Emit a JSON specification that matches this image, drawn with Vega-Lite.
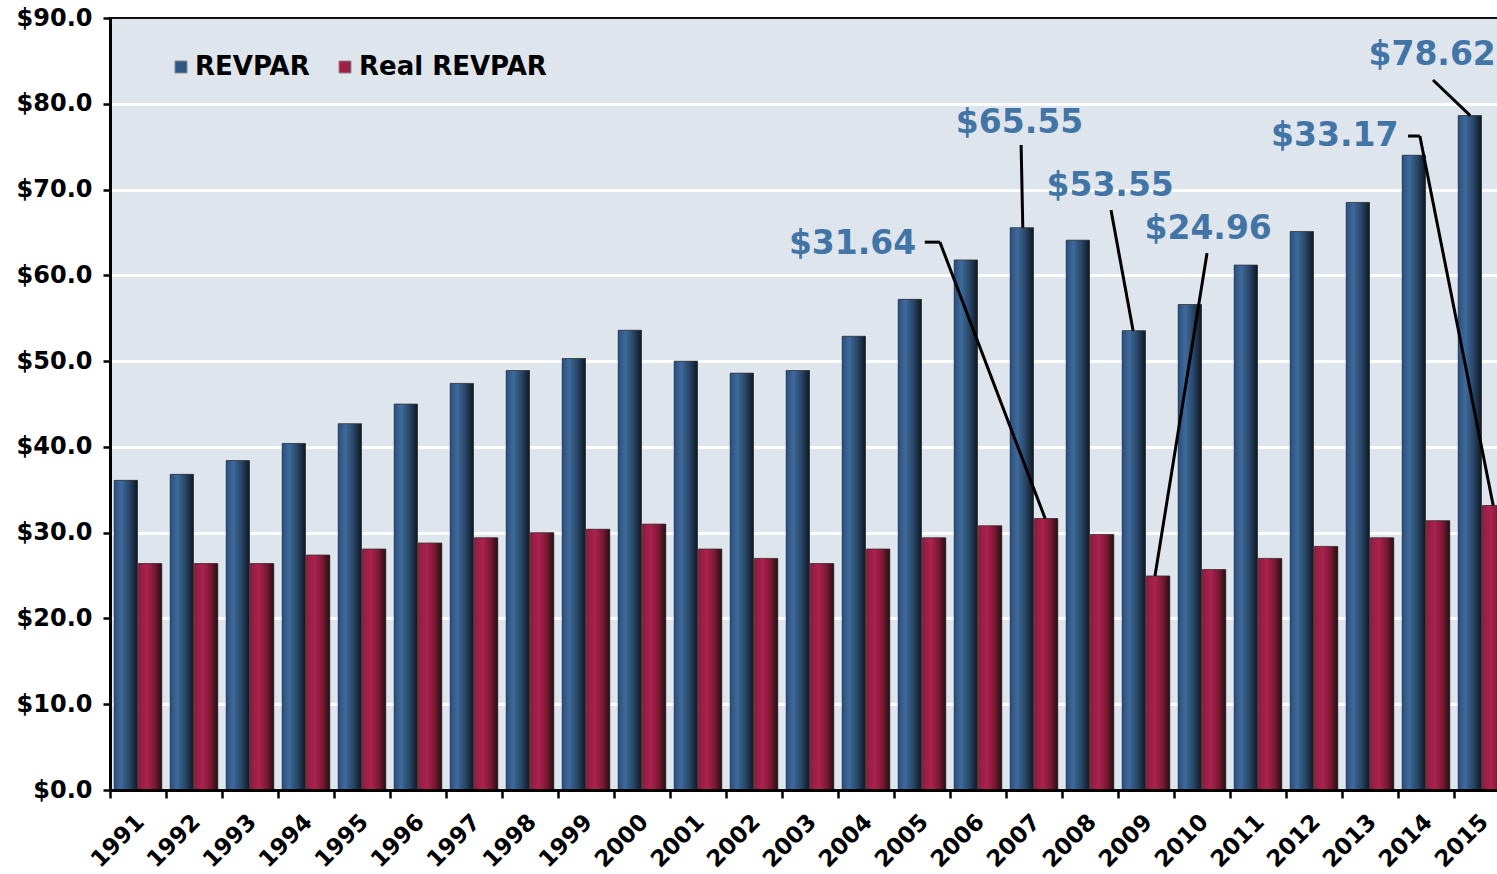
{
  "$schema": "https://vega.github.io/schema/vega-lite/v6.json",
  "width": 1388,
  "height": 772,
  "autosize": {"type": "none"},
  "padding": {"left": 110, "top": 18, "right": 0, "bottom": 84},
  "background": "white",
  "config": {
    "view": {"fill": "#dee5ec", "stroke": "#111111", "strokeWidth": 2},
    "font": "DejaVu Sans"
  },
  "datasets": {
    "bars": [
      {"year": "1991", "series": "REVPAR", "value": 36.1}, {"year": "1991", "series": "Real REVPAR", "value": 26.4},
      {"year": "1992", "series": "REVPAR", "value": 36.8}, {"year": "1992", "series": "Real REVPAR", "value": 26.4},
      {"year": "1993", "series": "REVPAR", "value": 38.4}, {"year": "1993", "series": "Real REVPAR", "value": 26.4},
      {"year": "1994", "series": "REVPAR", "value": 40.4}, {"year": "1994", "series": "Real REVPAR", "value": 27.4},
      {"year": "1995", "series": "REVPAR", "value": 42.7}, {"year": "1995", "series": "Real REVPAR", "value": 28.1},
      {"year": "1996", "series": "REVPAR", "value": 45.0}, {"year": "1996", "series": "Real REVPAR", "value": 28.8},
      {"year": "1997", "series": "REVPAR", "value": 47.4}, {"year": "1997", "series": "Real REVPAR", "value": 29.4},
      {"year": "1998", "series": "REVPAR", "value": 48.9}, {"year": "1998", "series": "Real REVPAR", "value": 30.0},
      {"year": "1999", "series": "REVPAR", "value": 50.3}, {"year": "1999", "series": "Real REVPAR", "value": 30.4},
      {"year": "2000", "series": "REVPAR", "value": 53.6}, {"year": "2000", "series": "Real REVPAR", "value": 31.0},
      {"year": "2001", "series": "REVPAR", "value": 50.0}, {"year": "2001", "series": "Real REVPAR", "value": 28.1},
      {"year": "2002", "series": "REVPAR", "value": 48.6}, {"year": "2002", "series": "Real REVPAR", "value": 27.0},
      {"year": "2003", "series": "REVPAR", "value": 48.9}, {"year": "2003", "series": "Real REVPAR", "value": 26.4},
      {"year": "2004", "series": "REVPAR", "value": 52.9}, {"year": "2004", "series": "Real REVPAR", "value": 28.1},
      {"year": "2005", "series": "REVPAR", "value": 57.2}, {"year": "2005", "series": "Real REVPAR", "value": 29.4},
      {"year": "2006", "series": "REVPAR", "value": 61.8}, {"year": "2006", "series": "Real REVPAR", "value": 30.8},
      {"year": "2007", "series": "REVPAR", "value": 65.55}, {"year": "2007", "series": "Real REVPAR", "value": 31.64},
      {"year": "2008", "series": "REVPAR", "value": 64.1}, {"year": "2008", "series": "Real REVPAR", "value": 29.8},
      {"year": "2009", "series": "REVPAR", "value": 53.55}, {"year": "2009", "series": "Real REVPAR", "value": 24.96},
      {"year": "2010", "series": "REVPAR", "value": 56.6}, {"year": "2010", "series": "Real REVPAR", "value": 25.7},
      {"year": "2011", "series": "REVPAR", "value": 61.2}, {"year": "2011", "series": "Real REVPAR", "value": 27.0},
      {"year": "2012", "series": "REVPAR", "value": 65.1}, {"year": "2012", "series": "Real REVPAR", "value": 28.4},
      {"year": "2013", "series": "REVPAR", "value": 68.5}, {"year": "2013", "series": "Real REVPAR", "value": 29.4},
      {"year": "2014", "series": "REVPAR", "value": 74.0}, {"year": "2014", "series": "Real REVPAR", "value": 31.4},
      {"year": "2015", "series": "REVPAR", "value": 78.62}, {"year": "2015", "series": "Real REVPAR", "value": 33.17}
    ],
    "notes": [
      {"label": "$31.64", "x": 2003.76, "y": 63.64},
      {"label": "$65.55", "x": 2006.74, "y": 77.75},
      {"label": "$53.55", "x": 2008.36, "y": 70.4},
      {"label": "$24.96", "x": 2010.11, "y": 65.39},
      {"label": "$33.17", "x": 2012.37, "y": 76.24},
      {"label": "$78.62", "x": 2014.11, "y": 85.69}
    ],
    "leaders": [
      {"x1": 2005.05, "y1": 63.87, "x2": 2005.32, "y2": 63.87},
      {"x1": 2005.32, "y1": 63.87, "x2": 2007.2, "y2": 31.64},
      {"x1": 2006.77, "y1": 75.19, "x2": 2006.8, "y2": 65.55},
      {"x1": 2008.375, "y1": 67.6, "x2": 2008.77, "y2": 53.55},
      {"x1": 2010.09, "y1": 62.59, "x2": 2009.16, "y2": 24.96},
      {"x1": 2013.68, "y1": 76.24, "x2": 2013.89, "y2": 76.24},
      {"x1": 2013.89, "y1": 76.24, "x2": 2015.2, "y2": 33.17},
      {"x1": 2014.125, "y1": 82.77, "x2": 2014.79, "y2": 78.62}
    ]
  },
  "layer": [
    {
      "data": {"name": "bars"},
      "encoding": {
        "x": {
          "field": "year", "type": "nominal", "title": null,
          "scale": {"range": [0, 1400], "paddingInner": 0.15, "paddingOuter": 0.075},
          "axis": {
            "zindex": 1,
            "bandPosition": 0.5,
            "tickOffset": -28,
            "labelOffset": 30,
            "labelAngle": -45,
            "labelAlign": "right",
            "labelBaseline": "middle",
            "labelFont": "DejaVu Sans",
            "labelFontSize": 23,
            "labelFontWeight": "bold",
            "labelColor": "black",
            "labelPadding": 20,
            "tickColor": "black",
            "tickWidth": 2.5,
            "tickSize": 8,
            "domainColor": "black",
            "domainWidth": 3,
            "grid": false
          }
        },
        "xOffset": {
          "field": "series", "type": "nominal",
          "scale": {"domain": ["REVPAR", "Real REVPAR"], "paddingInner": 0.04}
        },
        "y": {
          "field": "value", "type": "quantitative", "title": null,
          "scale": {"domain": [0, 90]},
          "axis": {
            "values": [0, 10, 20, 30, 40, 50, 60, 70, 80, 90],
            "format": "$.1f",
            "labelFont": "DejaVu Sans",
            "labelFontSize": 24,
            "labelFontWeight": "bold",
            "labelColor": "black",
            "labelPadding": 11,
            "tickColor": "black",
            "tickWidth": 2.5,
            "tickSize": 7,
            "domainColor": "black",
            "domainWidth": 3,
            "grid": true,
            "gridWidth": 3,
            "gridColor": {"condition": {"test": "datum.value === 0 || datum.value === 90", "value": "transparent"}, "value": "white"}
          }
        }
      },
      "layer": [
        {
          "mark": {"type": "bar"},
          "encoding": {
            "color": {
              "field": "series", "type": "nominal",
              "scale": {"domain": ["REVPAR", "Real REVPAR"], "range": ["#2f5784", "#a01f47"]},
              "legend": {
                "title": null,
                "orient": "none",
                "legendX": 58,
                "legendY": 36,
                "direction": "horizontal",
                "symbolType": "square",
                "symbolSize": 144,
                "symbolStrokeColor": "#888888",
                "symbolStrokeWidth": 1,
                "labelFont": "DejaVu Sans",
                "labelFontSize": 26,
                "labelFontWeight": "bold",
                "labelColor": "black",
                "labelOffset": 1,
                "columnPadding": 22,
                "padding": 0,
                "labelLimit": 400
              }
            }
          }
        },
        {
          "transform": [{"filter": "datum.series === 'REVPAR'"}],
          "mark": {
            "type": "bar",
            "stroke": "#333333", "strokeWidth": 1, "strokeOpacity": 0.7,
            "fill": {
              "gradient": "linear", "x1": 0, "y1": 0, "x2": 1, "y2": 0,
              "stops": [
                {"offset": 0, "color": "#2a4e7a"},
                {"offset": 0.3, "color": "#3e6a9c"},
                {"offset": 0.65, "color": "#274669"},
                {"offset": 1, "color": "#0f1824"}
              ]
            }
          }
        },
        {
          "transform": [{"filter": "datum.series === 'Real REVPAR'"}],
          "mark": {
            "type": "bar",
            "stroke": "#333333", "strokeWidth": 1, "strokeOpacity": 0.7,
            "fill": {
              "gradient": "linear", "x1": 0, "y1": 0, "x2": 1, "y2": 0,
              "stops": [
                {"offset": 0, "color": "#8c1c3c"},
                {"offset": 0.35, "color": "#ad2250"},
                {"offset": 0.7, "color": "#7c1733"},
                {"offset": 1, "color": "#2a0b12"}
              ]
            }
          }
        }
      ]
    },
    {
      "data": {"name": "leaders"},
      "mark": {"type": "rule", "stroke": "black", "strokeWidth": 3},
      "encoding": {
        "x": {"field": "x1", "type": "quantitative", "scale": {"domain": [1990.5, 2015.5], "range": [0, 1400]}, "axis": null},
        "x2": {"field": "x2"},
        "y": {"field": "y1", "type": "quantitative", "title": null},
        "y2": {"field": "y2"}
      }
    },
    {
      "data": {"name": "notes"},
      "mark": {"type": "text", "font": "DejaVu Sans", "fontWeight": "bold", "fontSize": 33, "color": "#4274a6", "align": "center", "baseline": "middle"},
      "encoding": {
        "x": {"field": "x", "type": "quantitative", "scale": {"domain": [1990.5, 2015.5], "range": [0, 1400]}, "axis": null},
        "y": {"field": "y", "type": "quantitative", "title": null},
        "text": {"field": "label"}
      }
    }
  ],
  "resolve": {"scale": {"x": "independent"}}
}
